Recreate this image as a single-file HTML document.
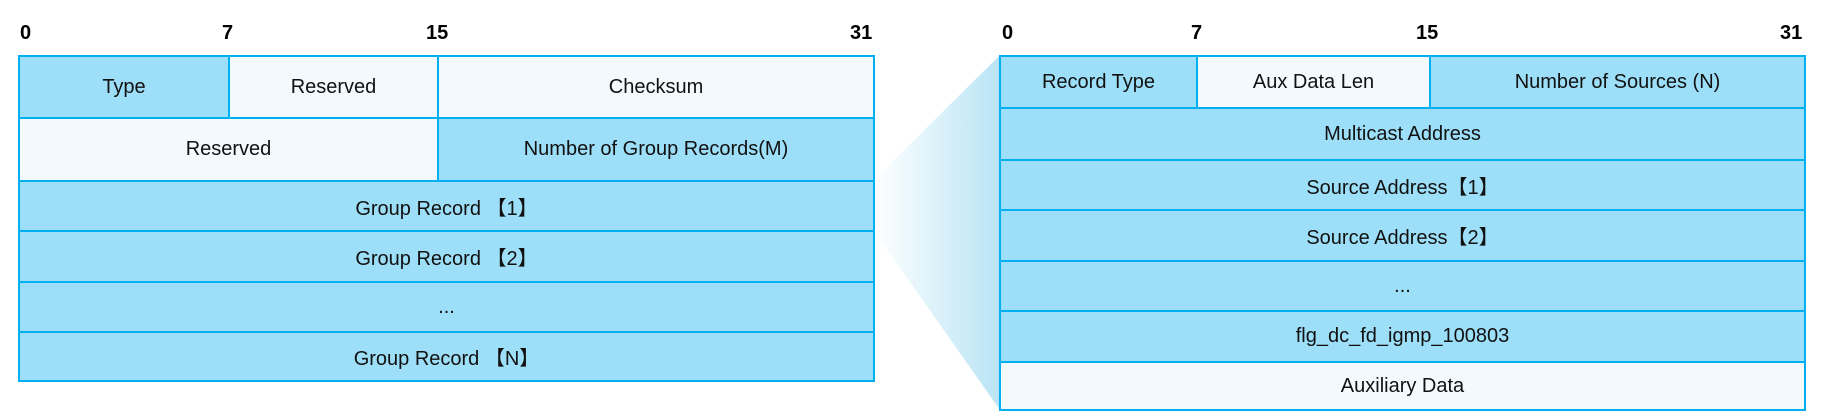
<!DOCTYPE html>
<html><head><style>
body{margin:0;width:1833px;height:418px;background:#fff;position:relative;overflow:hidden;font-family:"Liberation Sans",sans-serif;}
.c{position:absolute;box-sizing:border-box;border:2px solid #00b0f0;display:flex;align-items:center;justify-content:center;font-size:20px;color:#111;background:#9ddff8;}
.w{background:#f3f9fd;}
.n{position:absolute;font-weight:bold;font-size:20px;color:#000;top:22px;}
</style></head><body>
<svg style="position:absolute;left:0;top:0" width="1833" height="418">
<defs><linearGradient id="g" x1="0" x2="1" y1="0" y2="0"><stop offset="0" stop-color="#fff"/><stop offset="1" stop-color="#b9e4f5"/></linearGradient></defs>
<polygon points="874,180 1000,55 1000,410 874,231" fill="url(#g)"/>
</svg>
<div class="n" style="left:20px">0</div>
<div class="n" style="left:222px">7</div>
<div class="n" style="left:426px">15</div>
<div class="n" style="left:850px">31</div>
<div class="c" style="left:18px;top:55px;width:212px;height:64px">Type</div>
<div class="c w" style="left:228px;top:55px;width:211px;height:64px">Reserved</div>
<div class="c w" style="left:437px;top:55px;width:438px;height:64px">Checksum</div>
<div class="c w" style="left:18px;top:117px;width:421px;height:65px">Reserved</div>
<div class="c" style="left:437px;top:117px;width:438px;height:65px">Number of Group Records(M)</div>
<div class="c" style="left:18px;top:180px;width:857px;height:52px">Group Record 【1】</div>
<div class="c" style="left:18px;top:230px;width:857px;height:53px">Group Record 【2】</div>
<div class="c" style="left:18px;top:281px;width:857px;height:52px">...</div>
<div class="c" style="left:18px;top:331px;width:857px;height:51px">Group Record 【N】</div>

<div class="n" style="left:1002px">0</div>
<div class="n" style="left:1191px">7</div>
<div class="n" style="left:1416px">15</div>
<div class="n" style="left:1780px">31</div>
<div class="c" style="left:999px;top:55px;width:199px;height:54px">Record Type</div>
<div class="c w" style="left:1196px;top:55px;width:235px;height:54px">Aux Data Len</div>
<div class="c" style="left:1429px;top:55px;width:377px;height:54px">Number of Sources (N)</div>
<div class="c" style="left:999px;top:107px;width:807px;height:54px">Multicast Address</div>
<div class="c" style="left:999px;top:159px;width:807px;height:52px">Source Address【1】</div>
<div class="c" style="left:999px;top:209px;width:807px;height:53px">Source Address【2】</div>
<div class="c" style="left:999px;top:260px;width:807px;height:52px">...</div>
<div class="c" style="left:999px;top:310px;width:807px;height:53px">flg_dc_fd_igmp_100803</div>
<div class="c w" style="left:999px;top:361px;width:807px;height:50px">Auxiliary Data</div>
</body></html>
